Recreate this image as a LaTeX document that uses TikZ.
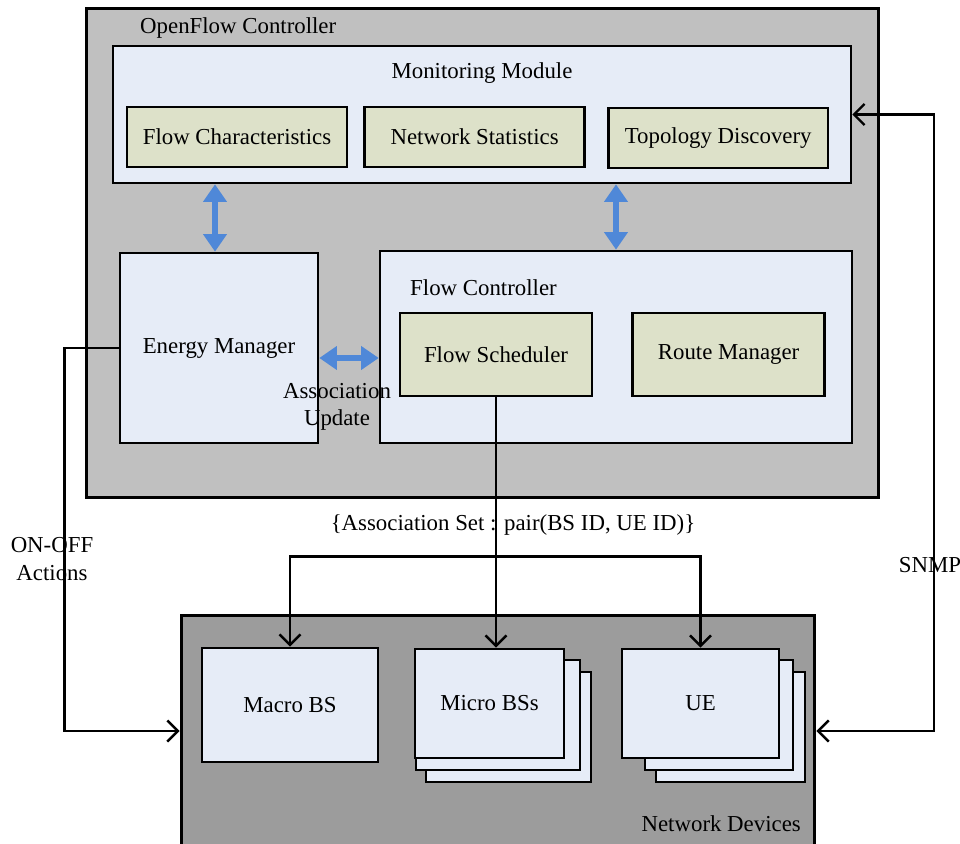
\documentclass[tikz,border=0pt]{standalone}
\usepackage{fontspec}
\setmainfont{Liberation Serif}
\usetikzlibrary{positioning}
\usetikzlibrary{arrows.meta}

\definecolor{ctrlgray}{HTML}{C0C0C0}
\definecolor{devgray}{HTML}{9C9C9C}
\definecolor{paleblue}{HTML}{E6ECF7}
\definecolor{khaki}{HTML}{DDE1C9}
\definecolor{linkblue}{HTML}{4F88D8}

\begin{document}
\begin{tikzpicture}[
    x=0.02cm, y=-0.02cm,
    font=\fontsize{13}{15.6}\selectfont,
    panel/.style={draw, line width=1.5pt, fill=paleblue, align=center, inner sep=0pt},
    module/.style={draw, line width=1.5pt, fill=khaki, minimum width=4.4cm, minimum height=1.2cm, align=center},
    conn/.style={line width=1.4pt, -{Straight Barb[length=6pt,width=12pt]}},
    dconn/.style={line width=1.4pt, {Straight Barb[length=6pt,width=12pt]}-{Straight Barb[length=6pt,width=12pt]}},
    link/.style={linkblue, line width=3.6pt, {Triangle[length=10pt,width=13pt]}-{Triangle[length=10pt,width=13pt]}}
]
    \useasboundingbox (0,0) rectangle (960,844);

    % OpenFlow controller
    \node[panel, fill=ctrlgray, line width=1.7pt, minimum width=15.86cm, minimum height=9.8cm] (ofc) at (482.5,253) {};
    \node[anchor=west] (ofctitle) at (134,28) {OpenFlow Controller};

    % Monitoring module
    \node[panel, minimum width=14.76cm, minimum height=2.74cm] (mon) at (482,114.5) {};
    \node (montitle) at (482,73) {Monitoring Module};
    \node[module] (flowchar) at (237,137) {Flow Characteristics};
    \node[module, right=0.3cm of flowchar] (netstat) {Network Statistics};
    \node[module, right=0.42cm of netstat, yshift=-0.02cm] (topo) {Topology Discovery};

    % Energy manager and flow controller
    \node[panel, minimum width=3.96cm, minimum height=3.8cm] (energy) at (219,348) {Energy Manager};
    \node[panel, minimum width=9.44cm, minimum height=3.84cm] (fctrl) at (616,347) {};
    \node[anchor=west] (fctitle) at (404,288) {Flow Controller};
    \node[module, minimum width=3.84cm, minimum height=1.66cm] (sched) at (496,354.5) {Flow Scheduler};
    \node[module, minimum width=3.84cm, minimum height=1.66cm, right=0.76cm of sched] (route) {Route Manager};

    % Internal links
    \coordinate (emlink) at ([xshift=-0.08cm]energy.north);
    \draw[link] (emlink |- mon.south) -- (emlink);
    \draw[link] (fctrl.north |- mon.south) -- (fctrl.north);
    \coordinate (assoc) at ([yshift=-0.2cm]energy.east);
    \draw[link] (assoc) -- (assoc -| fctrl.west);
    \node[align=center] (assoclabel) at (337,407) {Association\\Update};

    % Network devices
    \node[panel, fill=devgray, line width=1.7pt, minimum width=12.68cm, minimum height=4.64cm] (netdev) at (498,731) {};
    \node[anchor=east] (ndtitle) at (807,824) {Network Devices};
    \node[panel, minimum width=3.52cm, minimum height=2.28cm] (macro) at (290,705) {Macro BS};
    \node[panel, minimum width=3.3cm, minimum height=2.2cm] (micro3) at (508.5,727) {};
    \node[panel, minimum width=3.28cm, minimum height=2.2cm] (micro2) at (498,715) {};
    \node[panel, minimum width=2.98cm, minimum height=2.18cm] (micro) at (489.5,703.5) {Micro BSs};
    \node[panel, minimum width=2.98cm, minimum height=2.2cm] (ue3) at (730.5,727) {};
    \node[panel, minimum width=2.96cm, minimum height=2.2cm] (ue2) at (719,715) {};
    \node[panel, minimum width=3.14cm, minimum height=2.18cm] (ue) at (700.5,703.5) {UE};

    % Association set
    \draw[conn] (sched.south) -- (sched.south |- micro.north);
    \path (sched.south) ++(0,159) coordinate (split);
    \draw[conn] (split) -| (macro.north);
    \draw[conn] (split) -| (ue.north);
    \node (setlabel) at (513,525) {\{Association Set : pair(BS ID, UE ID)\}};

    % ON-OFF actions
    \draw[conn] (energy.west) -- ++(-54,0) |- (netdev.west);
    \node[align=center] (onofflabel) at (52,559) {ON-OFF\\Actions};

    % SNMP
    \draw[dconn] (mon.east) -- ++(82,0) |- (netdev.east);
    \node (snmplabel) at (930,565) {SNMP};
\end{tikzpicture}
\end{document}
